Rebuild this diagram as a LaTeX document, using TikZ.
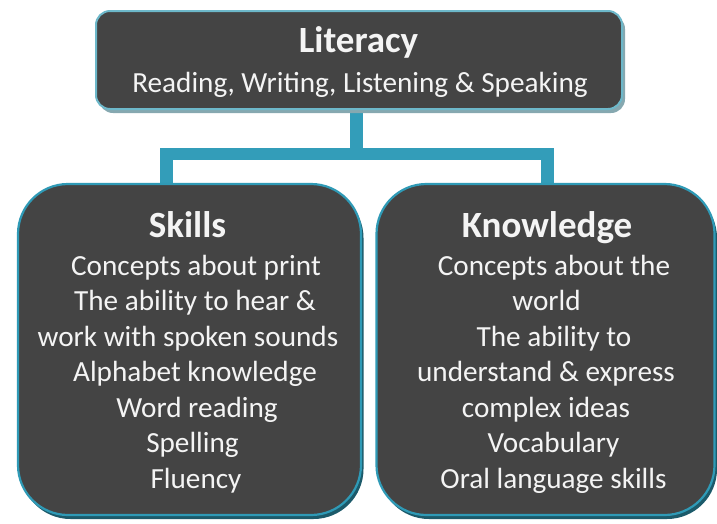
\documentclass[tikz,border=0pt]{standalone}
\usepackage{fontspec}
\setmainfont{Carlito}
\usetikzlibrary{shadows}
\definecolor{boxfill}{HTML}{444444}
\definecolor{topborder}{HTML}{6DB8CA}
\definecolor{topshadow}{HTML}{86A8B0}
\definecolor{teal}{HTML}{2F9AB6}
\definecolor{tealdark}{HTML}{1C5A6A}
\definecolor{conncol}{HTML}{339DB9}
\definecolor{txt}{HTML}{F4F4F4}
\tikzset{
  topbox/.style={draw=topborder, line width=2pt, fill=boxfill, rounded corners=14pt,
    minimum width=526pt, minimum height=98pt, inner sep=0pt,
    drop shadow={shadow xshift=3pt, shadow yshift=-4pt, fill=topshadow, opacity=1}},
  bigbox/.style={draw=teal, line width=2.2pt, fill=boxfill, rounded corners=50pt,
    minimum height=331pt, inner sep=0pt,
    drop shadow={shadow xshift=2.5pt, shadow yshift=-4pt, fill=tealdark, opacity=1}},
  conn/.style={draw=conncol, line width=12.5pt, line join=miter},
  ttl/.style={text=txt, anchor=base, inner sep=0pt, font=\fontsize{37}{44}\selectfont\bfseries},
  ln/.style={text=txt, anchor=base, inner sep=0pt, font=\fontsize{29.2}{35}\selectfont},
}
\begin{document}
\begin{tikzpicture}[x=1pt, y=-1pt]
\useasboundingbox (0,0) rectangle (717,523);
% connector
\coordinate (hl) at (166.5,154);
\coordinate (hr) at (547.5,154);
\coordinate (stemtop) at (356.5,100);
\coordinate (stembot) at (356.5,154);
\draw[conn] (166.5,190) |- (hr) -- (547.5,190);
\draw[conn] (stemtop) -- (stembot);
% boxes
\node[topbox] (top) at (359,60) {};
\node[bigbox, minimum width=343pt] (skills) at (189.5,349.5) {};
\node[bigbox, minimum width=338pt] (know) at (545.5,349.5) {};
% top text
\node[ttl] (lit) at (358.5,52) {Literacy};
\node[ln] (litsub) at (360,92) {Reading, Writing, Listening \& Speaking};
% skills text
\node[ttl] (sk) at (187.5,237) {Skills};
\node[ln] (s1) at (196,275) {Concepts about print};
\node[ln] (s2) at (195,310.5) {The ability to hear \&};
\node[ln] (s3) at (188,346) {work with spoken sounds};
\node[ln] (s4) at (195,381.5) {Alphabet knowledge};
\node[ln] (s5) at (197,417) {Word reading};
\node[ln] (s6) at (192.5,452.5) {Spelling};
\node[ln] (s7) at (196,488) {Fluency};
% knowledge text
\node[ttl] (kn) at (547,237) {Knowledge};
\node[ln] (k1) at (554,275) {Concepts about the};
\node[ln] (k2) at (546.5,310.5) {world};
\node[ln] (k3) at (554,346) {The ability to};
\node[ln] (k4) at (546,381.5) {understand \& express};
\node[ln] (k5) at (546,417) {complex ideas};
\node[ln] (k6) at (553.5,452.5) {Vocabulary};
\node[ln] (k7) at (553.5,488) {Oral language skills};
\end{tikzpicture}
\end{document}
